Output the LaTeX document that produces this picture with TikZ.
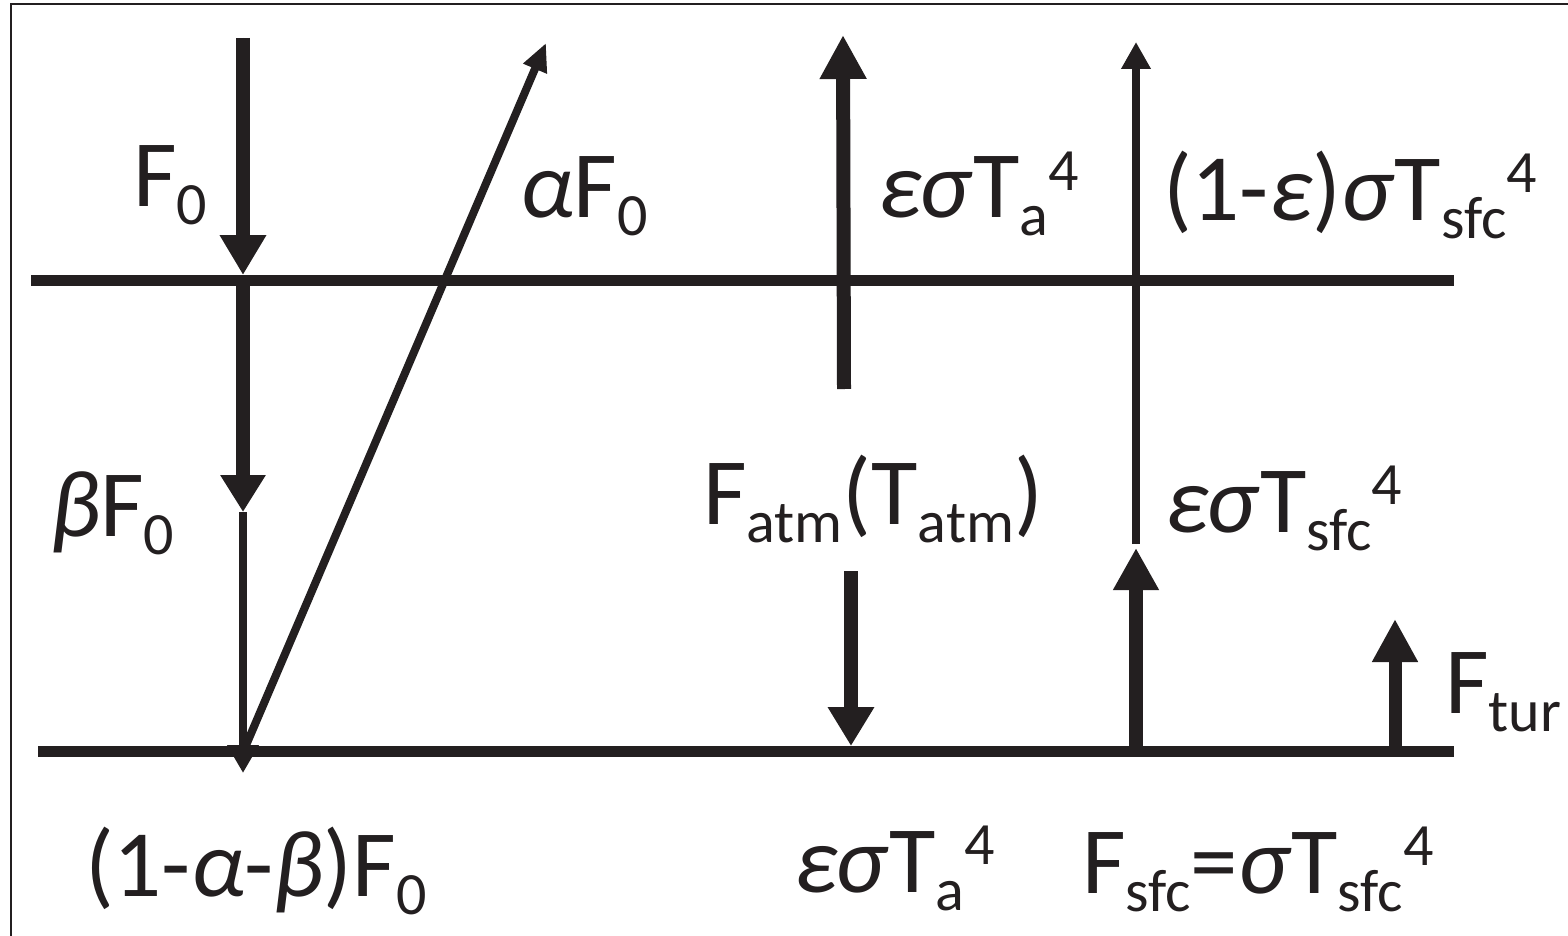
\documentclass[tikz,border=0pt]{standalone}
\usepackage{fontspec}
\setmainfont{Carlito}
\usetikzlibrary{arrows.meta}
\definecolor{ink}{RGB}{35,31,32}
\newcommand{\sbs}[1]{\raisebox{-18pt}{\fontsize{60}{60}\selectfont #1}}
\newcommand{\sps}[1]{\raisebox{28pt}{\fontsize{60}{60}\selectfont #1}}
\newcommand{\gk}[1]{\textit{#1}}
\tikzset{
  lbl/.style={anchor=base west, inner sep=0pt, outer sep=0pt, text=ink, font=\fontsize{95}{100}\selectfont},
  level/.style={line width=11pt, draw=ink},
  thickarr/.style={line width=14pt, draw=ink, fill=ink},
  thinarr/.style={line width=8pt, draw=ink, fill=ink},
}
\begin{document}
\begin{tikzpicture}[x=1pt, y=-1pt]
\useasboundingbox (0,0) rectangle (1568,936);
\fill[white] (0,0) rectangle (1568,936);
% frame (cropped)
\coordinate (fbl) at (11,940);
\coordinate (ftl) at (11,4);
\coordinate (ftr) at (1570,4);
\draw[line width=2.5pt, ink] (fbl) -- (ftl) -- (ftr);

% levels
\coordinate (tl) at (31,280);
\coordinate (tr) at (1454,280);
\coordinate (bl) at (38,751);
\coordinate (br) at (1454,751);
\draw[level] (tl) -- (tr);
\draw[level] (bl) -- (br);

% F0 incoming
\coordinate (f0s) at (243,38);
\coordinate (f0e) at (243,275);
\draw[thickarr, -{Triangle[length=40pt, width=44pt]}] (f0s) -- (f0e);

% beta F0
\coordinate (b0s) at (243,280);
\coordinate (b0e) at (243,512);
\draw[thickarr, -{Triangle[length=37pt, width=43pt]}] (b0s) -- (b0e);
\coordinate (b1e) at (243,773);
\draw[thinarr, -{Triangle[length=28pt, width=30pt]}] (b0e) -- (b1e);

% reflected alpha F0
\coordinate (as) at (244,750);
\coordinate (ae) at (546,43);
\draw[thinarr, -{Triangle[length=28pt, width=24pt]}] (as) -- (ae);

% atmosphere up
\coordinate (eus) at (844,389);
\coordinate (eue) at (843,35);
\draw[thickarr, -{Triangle[length=44pt, width=44pt]}] (eus) -- (eue);

% (1-eps) surface through
\coordinate (ts) at (1136,544);
\coordinate (te) at (1136,42);
\draw[thinarr, -{Triangle[length=27pt, width=28pt]}] (ts) -- (te);

% surface emission
\coordinate (ss) at (1136,751);
\coordinate (se) at (1136,548);
\draw[thickarr, -{Triangle[length=42pt, width=43pt]}] (ss) -- (se);

% atmosphere down
\coordinate (ds) at (851,571);
\coordinate (de) at (851,746);
\draw[thickarr, -{Triangle[length=39pt, width=44pt]}] (ds) -- (de);

% turbulent
\coordinate (us) at (1395,751);
\coordinate (ue) at (1395,619);
\draw[thickarr, line width=13pt, -{Triangle[length=43pt, width=43pt]}] (us) -- (ue);

% labels
\node[lbl] (lF0) at (133,207) {F\sbs{0}};
\node[lbl] (laF0) at (520,218) {\gk{α}F\sbs{0}};
\node[lbl] (leTa) at (878,218) {\gk{εσ}T\sbs{a}\sps{4}};
\node[lbl] (l1e) at (1163,220) {(1-\gk{ε})\gk{σ}T\sbs{sfc}\sps{4}};
\node[lbl] (lbF0) at (50,536) {\gk{β}F\sbs{0}};
\node[lbl] (lFatm) at (703,524) {F\sbs{atm}(T\sbs{atm})};
\node[lbl] (leTs) at (1165,532) {\gk{εσ}T\sbs{sfc}\sps{4}};
\node[lbl] (lFtur) at (1445,713) {F\sbs{tur}};
\node[lbl] (leTab) at (794,892) {\gk{εσ}T\sbs{a}\sps{4}};
\node[lbl] (lFsfc) at (1082,893) {F\sbs{sfc}=\gk{σ}T\sbs{sfc}\sps{4}};
\node[lbl] (l1ab) at (85,896) {(1-\gk{α}-\gk{β})F\sbs{0}};
\end{tikzpicture}
\end{document}
